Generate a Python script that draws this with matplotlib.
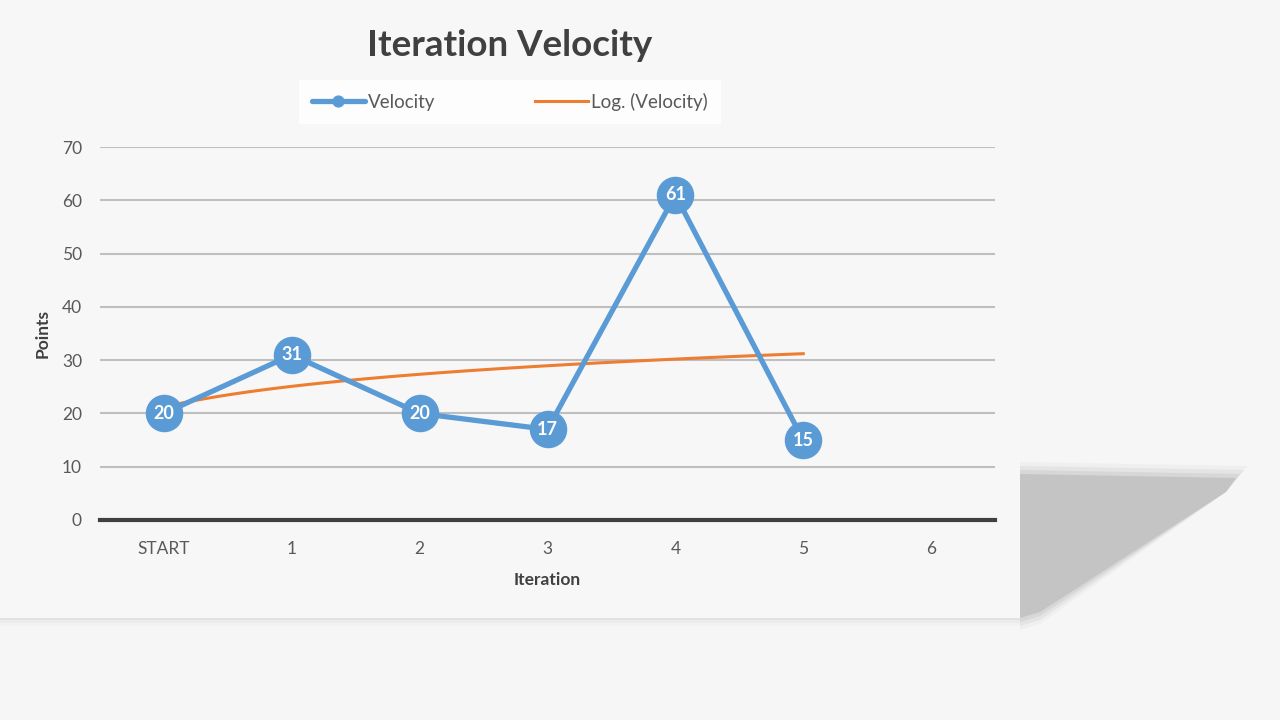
import numpy as np
import matplotlib.pyplot as plt
from matplotlib.patches import Polygon

# data
iterations = ["START", "1", "2", "3", "4", "5", "6"]
velocity = [20, 31, 20, 17, 61, 15]
y_ticks = [0, 10, 20, 30, 40, 50, 60, 70]

blue = "#5b9bd5"
orange = "#ed7d31"
txt = "#595959"
bg = "#f6f6f7"

plt.rcParams["font.family"] = ["Lato", "DejaVu Sans"]

fig = plt.figure(figsize=(12.8, 7.2), dpi=100, facecolor=bg)


def fig_poly(pts, **kw):
    p = Polygon([(px / 1280, 1 - py / 720) for px, py in pts], closed=True,
                transform=fig.transFigure, edgecolor="none", zorder=-10, **kw)
    fig.patches.append(p)


# soft shadow behind the chart panel
for i, a in enumerate([0.06, 0.1, 0.14, 0.24]):
    d = (3 - i) * 4
    fig_poly([(1020, 474 - d), (1236 + d, 478 - d), (1226, 492),
              (1040, 612 + d), (1020, 618 + d)], facecolor="#8a8a8a", alpha=a)
for i, a in enumerate([0.04, 0.07, 0.1]):
    y0 = 618 + 8 - i * 3
    fig_poly([(0, 610), (1020, 610), (1020, y0), (0, y0)],
             facecolor="#9a9a9a", alpha=a)
fig_poly([(0, 0), (1020, 0), (1020, 618), (0, 618)], facecolor="#f7f7f7")

ax = fig.add_axes([100 / 1280, 1 - 520 / 720, 895 / 1280, 373 / 720])
ax.set_facecolor("none")

x = np.arange(len(velocity))

# logarithmic trendline fitted to the velocity values
lx = np.log(x + 1)
a, b = np.polyfit(lx, velocity, 1)
xs = np.linspace(0, len(velocity) - 1, 100)
ax.plot(xs, a * np.log(xs + 1) + b, color=orange, lw=2.2, zorder=3,
        label="Log. (Velocity)")

ax.plot(x, velocity, color=blue, lw=3.8, marker="o", ms=26, zorder=4,
        label="Velocity", solid_capstyle="round")
for xi, v in zip(x, velocity):
    ax.text(xi, v, str(v), color="white", fontsize=13, fontweight="bold",
            ha="center", va="center", zorder=5)

ax.set_xlim(-0.5, len(iterations) - 0.5)
ax.set_ylim(0, 70)
ax.set_xticks(range(len(iterations)))
ax.set_xticklabels(iterations)
ax.set_yticks(y_ticks)
ax.yaxis.grid(True, color="#bfbfbf", lw=1.5)
ax.set_axisbelow(True)
for s in ["top", "right", "left"]:
    ax.spines[s].set_visible(False)
ax.spines["bottom"].set_color("#404040")
ax.spines["bottom"].set_linewidth(3)
ax.spines["bottom"].set_zorder(2)
ax.tick_params(length=0, colors=txt, labelsize=12.5)
ax.tick_params(axis="x", pad=15)
ax.tick_params(axis="y", pad=13)

ax.set_xlabel("Iteration", fontsize=12.5, fontweight="bold", color="#404040",
              labelpad=11)
ax.set_ylabel("Points", fontsize=12.5, fontweight="bold", color="#404040",
              labelpad=8)

fig.text(510 / 1280, 1 - 45 / 720, "Iteration Velocity", fontsize=26.5,
         fontweight="bold", color="#404040", ha="center", va="center")

h, l = ax.get_legend_handles_labels()
leg = fig.legend([h[1], h[0]], [l[1], l[0]], loc="center",
                 bbox_to_anchor=(510 / 1280, 1 - 102 / 720), ncol=2,
                 frameon=True, fontsize=13.5, markerscale=0.3, handlelength=2.8,
                 columnspacing=5.3, handletextpad=0.2, borderpad=0.5)
leg.get_frame().set_facecolor("white")
leg.get_frame().set_edgecolor("none")
leg.get_frame().set_boxstyle("square", pad=0.2)
for t in leg.get_texts():
    t.set_color(txt)

fig.savefig("out.png", dpi=100, facecolor=bg)
